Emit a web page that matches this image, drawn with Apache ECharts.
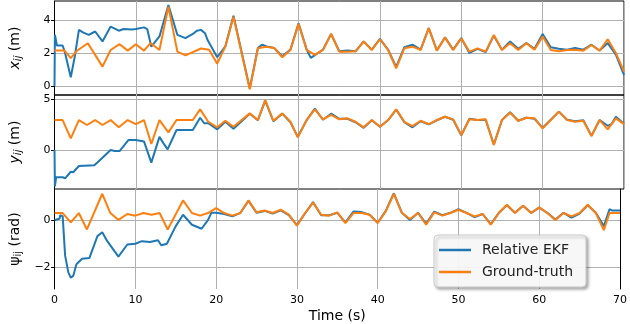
<!DOCTYPE html>
<html>
<head>
<meta charset="utf-8">
<script src="https://cdn.jsdelivr.net/npm/echarts@6/dist/echarts.min.js"></script>
<style>
html,body{margin:0;padding:0;background:#fff;}
#main{width:630px;height:324px;}
</style>
</head>
<body>
<div id="main"></div>
<script>
// ---------- DATA ----------
var xTicks = [0, 10, 20, 30, 40, 50, 60, 70];
var yTicksX = [0, 2, 4];
var yTicksY = [0, 5];
var yTicksPsi = [-2, 0];

// x_ij panel
var gtT_x = [0,1.2,2,2.8,4.1,5.9,6.9,8,9,10,11,11.8,12.9,14,15.1,16.1,18,19,20,21,22,24,25,26,27,28,29,30,31,32,33,34,35,36,37,38,39,40,41,42,43,44,45,46,47,48,49,50,51,52,53,54,55,56,57,58,59,60,61,62,63,64,65,66,67,68,69,70];
var gt_x = [2.15,2.15,1.68,2.15,2.59,1.17,2.18,2.53,2.14,2.53,2.14,2.6,2.18,4.8,2.08,1.85,2.27,2.2,1.35,2.38,4.2,-0.2,2.28,2.38,2.3,1.74,2.18,3.76,2.18,1.88,2.18,3.15,2.08,2.08,2.1,2.69,2.18,2.83,2.18,1.07,2.28,2.38,2.18,3.5,2.14,2.93,2.18,2.88,2.08,2.28,2.08,3.09,2.18,2.59,2.18,2.59,2.2,3.0,2.18,2.1,2.18,2.2,2.14,2.48,2.14,2.83,2.0,0.87];
var ekfT_x = [0,0.05,0.3,1.0,1.3,2.0,2.5,3.0,3.5,4.2,5.0,5.9,6.9,7.9,8.5,9.5,10,11,11.4,11.9,12.9,14,15.1,16.1,17,17.5,18,18.5,18.8,20,21,22,24,25,25.5,26.1,27,28,29,30,31,31.5,32.1,33,34,35,36,37,38,39,40,41,42,43,44,45,46,47,48,49,50,51,52,53,54,55,56,57,58,59,60,61,62,63,64,65,66,67,68,69,70];
var ekf_x = [0,3.1,2.45,2.45,2.0,0.53,1.8,3.4,3.25,3.1,3.3,2.7,3.6,3.35,3.45,3.42,3.45,3.55,3.45,2.38,3.0,4.9,3.1,2.9,3.15,3.35,3.4,3.2,2.8,1.74,2.4,4.25,-0.15,2.3,2.5,2.4,2.3,1.8,2.2,3.8,2.2,1.7,1.9,2.2,3.15,2.1,2.15,2.1,2.7,2.2,2.85,2.2,1.15,2.35,2.5,2.2,3.5,2.15,2.95,2.2,2.9,2.0,2.25,2.05,3.05,2.2,2.7,2.25,2.6,2.25,3.15,2.35,2.25,2.2,2.3,2.2,2.5,2.15,2.6,1.9,0.67];

// y_ij panel
var gtT_y = [0,1,2,3,4,5,5.9,6.9,7.9,9,10,11,11.9,12.9,14,15,17,17.9,18.9,20,21,22,24,25,25.9,26.9,28,29,29.9,31,32,33,34,35,36,37,38,39,40,41,42,43,44,45,46,47,48,49,50,51,52,53,54,55,56,57,58,59,60,61,62,63,64,65,66,67,68,69,70];
var gt_y = [2.97,2.97,1.16,2.97,2.48,2.97,2.48,2.97,2.25,2.97,2.57,2.97,0.6,2.97,1.75,2.97,2.97,4.03,2.8,2.25,2.9,2.3,3.63,2.97,4.95,2.9,3.63,2.8,1.25,2.97,4.03,3.04,3.47,3.04,3.14,2.8,2.25,2.97,2.3,2.97,4.03,2.8,2.36,2.9,2.57,2.97,3.3,3.04,1.49,3.04,2.97,3.04,0.5,2.97,3.7,2.9,3.2,3.14,2.15,2.97,3.8,2.97,2.8,2.9,1.39,2.97,2.05,3.14,2.57];
var ekfT_y = [0,0.05,0.2,1.0,1.3,2.0,2.3,3.0,4.9,5.8,6.9,7.4,8,9.1,10,11,11.9,12.9,13.4,13.9,15,17,17.9,18.4,18.9,20,21,22,24,25,25.9,26.9,28,29,29.9,31,32,33,34,35,36,37,38,39,40,41,42,43,44,45,46,47,48,49,50,51,52,53,54,55,56,57,58,59,60,61,62,63,64,65,66,67,68,68.5,69,70];
var ekf_y = [0,-3.6,-2.7,-2.7,-2.8,-2.15,-2.2,-1.58,-1.5,-0.83,0,-0.1,-0.1,1.0,1.0,0.85,-1.25,1.3,0.66,0.06,1.98,1.98,3.2,2.65,2.65,2.05,2.8,2.1,3.6,2.95,4.9,2.85,3.6,2.75,1.3,2.97,4.1,3.0,3.6,3.1,3.1,2.75,2.2,2.95,2.3,2.95,4.0,2.75,2.25,2.85,2.55,2.95,3.3,3.0,1.45,3.1,2.97,3.0,0.55,2.97,3.75,2.9,3.2,3.1,2.2,3.0,3.8,3.0,2.85,2.95,1.4,2.97,2.4,2.6,3.3,2.6];

// psi_ij panel
var gtT_psi = [0,1,2,3,4,5.9,6.9,7.9,9,10,11,12,13,14,15.9,17,18,19,20,21,22,23,24,25,26,27,28,29,30,31,32,33,34,35,36,37,38,39,40,41,42,43,44,45,46,47,48,49,50,51,52,53,54,55,56,57,58,59,60,61,62,63,64,65,66,67,68,68.7,70];
var gt_psi = [0.29,0.29,-0.1,0.29,-0.4,1.1,0.29,0,0.25,0.18,0.29,0.22,0.29,-0.4,0.82,0.29,0.18,0.29,0.5,0.29,0.18,0.29,0.82,0.32,0.4,0.29,0.43,0.22,-0.24,0.29,0.73,0.22,0.18,0.32,-0.13,0.29,0.29,0.22,-0.13,0.36,1.1,0.29,0.04,0.29,-0.2,0.32,0.18,0.29,0.43,0.29,0.15,0.25,-0.2,0.29,0.64,0.29,0.6,0.29,0.53,0.29,0,0.29,0.15,0.29,0.64,0.29,-0.43,0.29,0.29];
var ekfT_psi = [0,0.6,0.7,1.0,1.3,1.7,2.0,2.3,2.7,3.4,4.3,5.3,5.9,6.5,7.9,9,10,10.8,11.8,12.8,13.2,13.9,15,15.9,17,18.2,19,19.4,20,21,22,23,24,25,26,27,28,29,30,31,32,33,34,35,36,37,38,39,40,41,42,43,44,45,46,47,48,49,50,51,52,53,54,55,56,57,58,59,60,61,62,63,64,65,66,67,68,68.7,69,70];
var ekf_psi = [0,0.05,0.2,0.15,-1.5,-2.2,-2.42,-2.35,-1.86,-1.63,-1.6,-0.68,-0.52,-0.88,-1.54,-1.03,-1.0,-0.89,-0.93,-0.85,-1.06,-1.0,-0.26,0.22,-0.2,-0.37,0.0,0.3,0.3,0.25,0.15,0.3,0.8,0.3,0.38,0.27,0.4,0.2,-0.22,0.27,0.75,0.2,0.2,0.3,-0.1,0.35,0.33,0.22,-0.12,0.38,1.12,0.3,0.0,0.3,-0.15,0.35,0.2,0.3,0.45,0.3,0.12,0.25,-0.18,0.3,0.62,0.3,0.6,0.3,0.52,0.3,0.02,0.3,0.1,0.27,0.62,0.3,-0.26,0.45,0.4,0.4];

var seriesNames = ['Relative EKF', 'Ground-truth'];
var colors = ['#1f77b4', '#ff7f0e'];

// ---------- CHART ----------
function zip(t, v) { return t.map(function (x, i) { return [x, v[i]]; }); }
var FONT = 'DejaVu Sans';
function fmt(v) { return String(v).replace('-', '\u2212'); }

var grids = [
  { left: 53, top: 1, width: 571, height: 94, show: true, borderColor: '#000', borderWidth: 1 },
  { left: 53, top: 95, width: 571, height: 94, show: true, borderColor: '#000', borderWidth: 1 },
  { left: 53, top: 189, width: 571, height: 101, show: false }
];

function makeX(gi, showLabels) {
  return {
    type: 'value', gridIndex: gi, min: 0, max: 70, interval: 10,
    axisLine: { show: false },
    axisTick: { show: false },
    axisLabel: { show: showLabels, fontFamily: FONT, fontSize: 11, color: '#000', margin: 6 },
    splitLine: { show: true, lineStyle: { color: '#b0b0b0', width: 1 } },
    name: showLabels ? 'Time (s)' : '',
    nameLocation: 'middle', nameGap: 20,
    nameTextStyle: { fontFamily: FONT, fontSize: 14, color: '#000' }
  };
}
function makeY(gi, mn, mx, ticks, name, rich, showLine) {
  return {
    type: 'value', gridIndex: gi, min: mn, max: mx,
    axisLine: { show: showLine, lineStyle: { color: '#000', width: 1 } },
    axisTick: { show: true, length: 3.5, customValues: ticks, lineStyle: { color: '#000' } },
    axisLabel: { customValues: ticks, fontFamily: FONT, fontSize: 11, color: '#000', margin: 4, formatter: fmt },
    splitLine: { show: true, lineStyle: { color: '#b0b0b0', width: 1 } },
    name: name, nameLocation: 'middle', nameRotate: 90, nameGap: 31,
    nameTextStyle: { fontFamily: FONT, fontSize: 14, color: '#000', rich: rich }
  };
}
var richIt = {
  i: { fontFamily: FONT, fontSize: 14, fontStyle: 'italic', color: '#000' },
  s: { fontFamily: FONT, fontSize: 10, fontStyle: 'italic', color: '#000', verticalAlign: 'bottom', padding: [7, 0, 0, 0] },
  n: { fontFamily: FONT, fontSize: 14, color: '#000' }
};
var richUp = {
  i: { fontFamily: FONT, fontSize: 14, color: '#000' },
  s: { fontFamily: FONT, fontSize: 10, color: '#000', verticalAlign: 'bottom', padding: [7, 0, 0, 0] },
  n: { fontFamily: FONT, fontSize: 14, color: '#000' }
};

var yAxes = [
  makeY(0, -0.55, 5.15, yTicksX, '{i|x}{s|ij}{n| (m)}', richIt, true),
  makeY(1, -3.86, 5.45, yTicksY, '{i|y}{s|ij}{n| (m)}', richIt, true),
  makeY(2, -2.9, 1.30, yTicksPsi, '{i|\u03c8}{s|ij}{n| (rad)}', richUp, true),
  { type: 'value', gridIndex: 2, position: 'right', min: -2.9, max: 1.30,
    axisLine: { show: true, lineStyle: { color: '#000', width: 1 } },
    axisTick: { show: false }, axisLabel: { show: false }, splitLine: { show: false } }
];

function line(name, idx, xi, yi, data) {
  return {
    name: name, type: 'line', xAxisIndex: xi, yAxisIndex: yi, data: data,
    symbol: 'none', animation: false, clip: true,
    lineStyle: { color: colors[idx], width: 2 }, itemStyle: { color: colors[idx] },
    z: 2 + idx
  };
}

var chart = echarts.init(document.getElementById('main'), null, { renderer: 'canvas' });
chart.setOption({
  animation: false,
  backgroundColor: '#fff',
  grid: grids,
  xAxis: [makeX(0, false), makeX(1, false), makeX(2, true)],
  yAxis: yAxes,
  legend: {
    data: seriesNames.map(function (n, i) { return { name: n, icon: 'rect', itemStyle: { color: colors[i] } }; }),
    left: 434, top: 235,
    orient: 'vertical',
    itemWidth: 32, itemHeight: 2.5, itemGap: 6,
    padding: [7, 13, 7, 5],
    backgroundColor: 'rgba(255,255,255,0.9)',
    borderColor: '#cccccc', borderWidth: 1, borderRadius: 4,
    shadowBlur: 3, shadowColor: 'rgba(0,0,0,0.35)', shadowOffsetX: 2, shadowOffsetY: 2,
    textStyle: { fontFamily: FONT, fontSize: 14, lineHeight: 16, color: '#222', padding: [0, 0, 0, 6] }
  },
  series: [
    line(seriesNames[0], 0, 0, 0, zip(ekfT_x, ekf_x)),
    line(seriesNames[1], 1, 0, 0, zip(gtT_x, gt_x)),
    line(seriesNames[0], 0, 1, 1, zip(ekfT_y, ekf_y)),
    line(seriesNames[1], 1, 1, 1, zip(gtT_y, gt_y)),
    line(seriesNames[0], 0, 2, 2, zip(ekfT_psi, ekf_psi)),
    line(seriesNames[1], 1, 2, 2, zip(gtT_psi, gt_psi))
  ]
});
</script>
</body>
</html>
